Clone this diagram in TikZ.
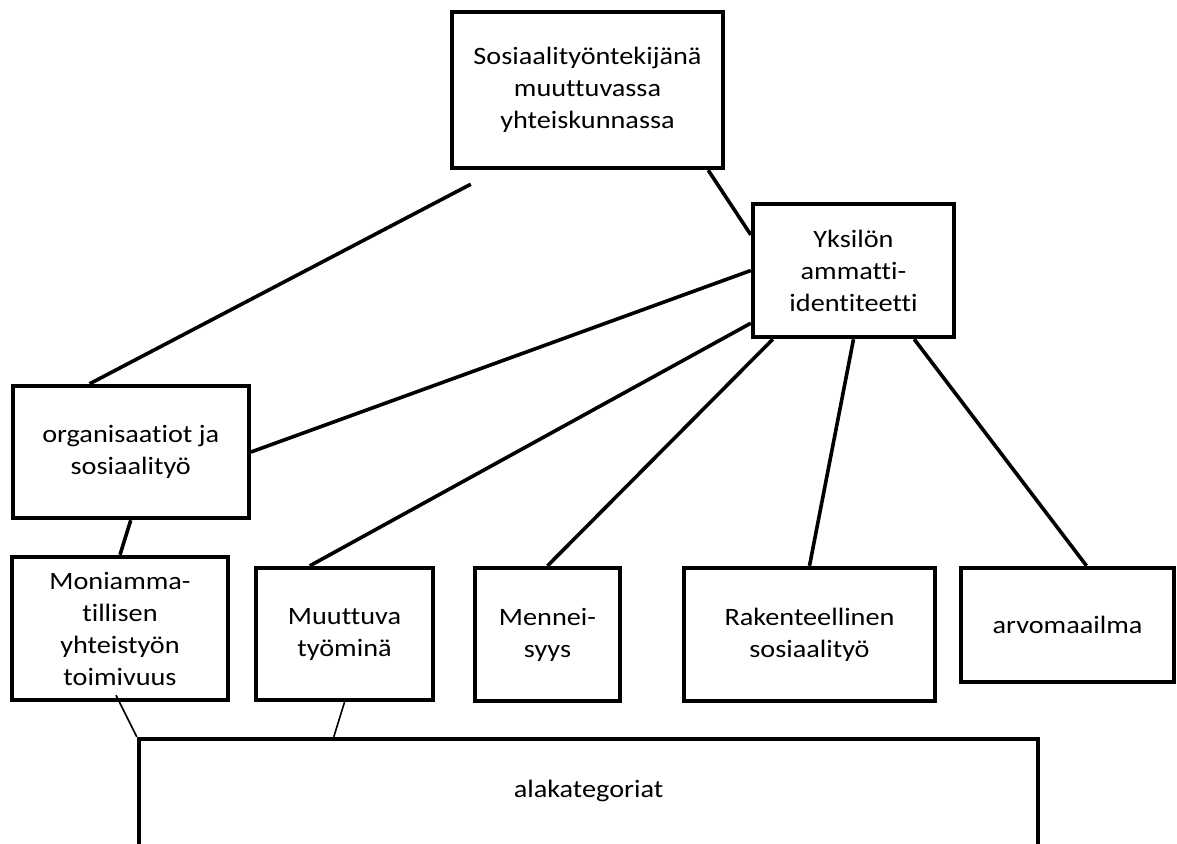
\documentclass[tikz,border=0pt]{standalone}
\usepackage{fontspec}
\setmainfont[FakeStretch=1.13,Ligatures=NoCommon]{Carlito}
\usepackage{tikz}

\begin{document}
\begin{tikzpicture}[x=0.5pt,y=-0.5pt,
  box/.style={draw=black,line width=2.2pt,align=center,inner sep=0pt,font=\fontsize{12.5}{16}\selectfont},
  link/.style={black,line width=1.8pt},
  thinlink/.style={black,line width=0.8pt}]

\useasboundingbox (0,0) rectangle (1177,843);

\node[box,minimum width=135.5pt,minimum height=78pt] (top) at (587.5,90) {Sosiaalityöntekijänä\\muuttuvassa\\yhteiskunnassa};
\node[box,minimum width=100.5pt,minimum height=66.5pt] (yks) at (853.5,270.5) {Yksilön\\ammatti-\\identiteetti};
\node[box,minimum width=118pt,minimum height=66pt] (org) at (130.75,452) {organisaatiot ja\\sosiaalityö};

\node[box,minimum width=108pt,minimum height=71.5pt] (moni) at (120,628.5) {Moniamma-\\tillisen\\yhteistyön\\toimivuus};
\node[box,minimum width=88.5pt,minimum height=66pt] (muut) at (344.5,634) {Muuttuva\\työminä};
\node[box,minimum width=72.5pt,minimum height=66.5pt] (menn) at (547.5,634.5) {Mennei-\\syys};
\node[box,minimum width=125.5pt,minimum height=66.5pt] (rak) at (809.5,634.5) {Rakenteellinen\\sosiaalityö};
\node[box,minimum width=106.5pt,minimum height=57pt] (arvo) at (1067.5,625) {arvomaailma};

\node[box,minimum width=449.5pt,minimum height=58pt] (ala) at (588.5,797) {};
\node[font=\fontsize{12.5}{16}\selectfont] (alatext) at (588.5,791) {alakategoriat};

\draw[link] ([shift={(21,14)}]top.south west) -- ([shift={(79,0)}]org.north west);
\draw[link] ([shift={(-17,0)}]top.south east) -- ([shift={(0,33)}]yks.north west);
\draw[link] (yks.west) -- (org.east);
\draw[link] ([shift={(0,-16)}]yks.south west) -- ([shift={(56,0)}]muut.north west);
\draw[link] ([shift={(22,0)}]yks.south west) -- (menn.north);
\draw[link] (yks.south) -- (rak.north);
\draw[link] ([shift={(-42,0)}]yks.south east) -- ([shift={(19,0)}]arvo.north);
\draw[link] (org.south) -- (moni.north);

\draw[thinlink] ([shift={(-4,-7)}]moni.south) -- (ala.north west);
\draw[thinlink] (muut.south) -- ([shift={(197,0)}]ala.north west);

\end{tikzpicture}
\end{document}
